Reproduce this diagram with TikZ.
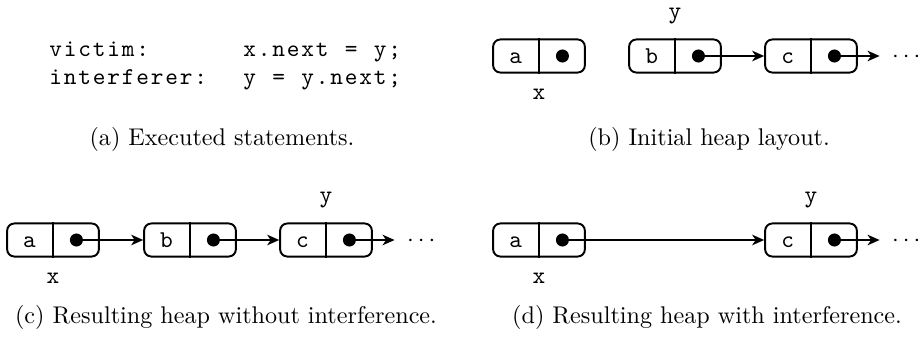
\documentclass[tikz,border=0pt]{standalone}
\usepackage{fontspec}
\usetikzlibrary{arrows.meta,positioning,calc}
\tikzset{
  >={Stealth[length=5pt,width=4.4pt,inset=1.5pt]},
  cell/.style={draw,thick,rounded corners=3pt,minimum width=38pt,
    minimum height=13.7pt,inner sep=0pt},
  val/.style={font=\ttfamily,inner sep=0pt,anchor=base},
  var/.style={font=\ttfamily},
  ptr/.style={->,semithick},
  capt/.style={anchor=base,font=\normalsize},
  code/.style={anchor=base west,inner sep=0pt,font=\ttfamily},
}
% fixed columns for the statements
\ExplSyntaxOn
\NewDocumentCommand{\codeline}{m}{\str_map_inline:nn {#1} {\makebox[0.6em]{##1}}}
\ExplSyntaxOff
% one list cell: value on the left, pointer dot on the right
\newcommand{\heapcell}[3]{%
  \node[cell] (#1) at (#2) {};
  \draw[semithick] (#1.north) -- (#1.south);
  \node[val] (#1v) at ([yshift=-3pt]$(#1.center)!0.5!(#1.west)$) {#3};
  \coordinate (#1p) at ($(#1.center)!0.5!(#1.east)$);
  \fill (#1p) circle (2.7pt);
}

\begin{document}
\begin{tikzpicture}[x=0.01455cm,y=-0.01455cm]
  \useasboundingbox (0,0) rectangle (920,340);

  % (a) statements
  \node[code] (vic) at (48,57) {\codeline{victim:}};
  \node[code] (vicst) at (242,57) {\codeline{x.next = y;}};
  \node[code] (intf) at (48,85) {\codeline{interferer:}};
  \node[code] (intfst) at (242,85) {\codeline{y = y.next;}};
  \node[capt] (capa) at (222,145) {(a) Executed statements.};

  % (b) initial heap
  \heapcell{a1}{539,56}{a}
  \heapcell{b1}{675,56}{b}
  \heapcell{c1}{811,56}{c}
  \node[var,above=2.4pt of b1] (y1) {y};
  \node[var,below=3pt of a1] (x1) {x};
  \coordinate (e1) at ([xshift=9pt]c1.east);
  \draw[ptr] (b1p) -- (b1p -| c1.west);
  \draw[ptr] (c1p) -- (e1);
  \node[anchor=base west,inner sep=0pt] (d1) at ([xshift=5pt,yshift=-2.5pt]e1) {$\cdots$};
  \node[capt] (capb) at (709,145) {(b) Initial heap layout.};

  % (c) without interference
  \heapcell{a2}{53,240}{a}
  \heapcell{b2}{190,240}{b}
  \heapcell{c2}{326,240}{c}
  \node[var,above=2.4pt of c2] (y2) {y};
  \node[var,below=3pt of a2] (x2) {x};
  \coordinate (e2) at ([xshift=9pt]c2.east);
  \draw[ptr] (a2p) -- (a2p -| b2.west);
  \draw[ptr] (b2p) -- (b2p -| c2.west);
  \draw[ptr] (c2p) -- (e2);
  \node[anchor=base west,inner sep=0pt] (d2) at ([xshift=5pt,yshift=-2.5pt]e2) {$\cdots$};
  \node[capt] (capc) at (226,323) {(c) Resulting heap without interference.};

  % (d) with interference
  \heapcell{a3}{539,240}{a}
  \heapcell{c3}{811,240}{c}
  \node[var,above=2.4pt of c3] (y3) {y};
  \node[var,below=3pt of a3] (x3) {x};
  \coordinate (e3) at ([xshift=9pt]c3.east);
  \draw[ptr] (a3p) -- (a3p -| c3.west);
  \draw[ptr] (c3p) -- (e3);
  \node[anchor=base west,inner sep=0pt] (d3) at ([xshift=5pt,yshift=-2.5pt]e3) {$\cdots$};
  \node[capt] (capd) at (707,323) {(d) Resulting heap with interference.};
\end{tikzpicture}
\end{document}
